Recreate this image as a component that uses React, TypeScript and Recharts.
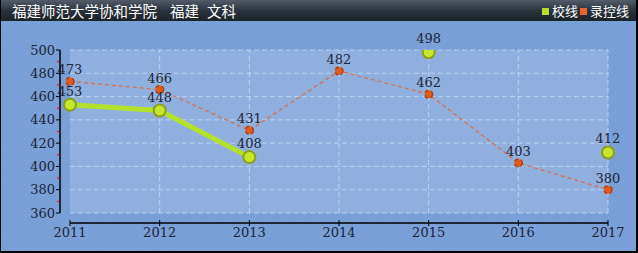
import { LineChart, Line, XAxis, YAxis, ReferenceLine, ReferenceArea, LabelList } from "recharts";

const years = ["2011", "2012", "2013", "2014", "2015", "2016", "2017"];
const schoolLine = [453, 448, 408, null, 498, null, 412];
const controlLine = [473, 466, 431, 482, 462, 403, 380];
const yTicks = [360, 380, 400, 420, 440, 460, 480, 500];
const yMinorTicks = [370, 390, 410, 430, 450, 470, 490];

const data = years.map((year, i) => ({
    year,
    school: schoolLine[i],
    control: controlLine[i],
}));

const serif = "'DejaVu Serif', 'Liberation Serif', serif";
const cjk = "'Noto Sans CJK SC', sans-serif";

function YTick(props: any) {
    const { x, y, payload } = props;
    if (payload.value % 20 !== 0) {
        return <line x1={x - 3} y1={y} x2={x} y2={y} stroke="#e00000" strokeWidth={1} />;
    }
    return (
        <g>
            <line x1={x - 4} y1={y} x2={x} y2={y} stroke="#000" strokeWidth={1} />
            <text x={x - 5} y={y + 4.5} textAnchor="end" fontSize={13} fontFamily={serif} fill="#1c2436">
                {payload.value}
            </text>
        </g>
    );
}

function XTick(props: any) {
    const { x, y, payload } = props;
    return (
        <g>
            <line x1={x} y1={y - 3} x2={x} y2={y + 3} stroke="#000" strokeWidth={1} />
            <text x={x} y={y + 14} textAnchor="middle" fontSize={13} fontFamily={serif} fill="#1c2436">
                {payload.value}
            </text>
        </g>
    );
}

function YAxisLine(props: any) {
    const { x1, y1, x2, y2 } = props;
    return <line x1={x1 - 10} y1={y1} x2={x2 - 10} y2={y2} stroke="#000" strokeWidth={1.5} />;
}

function XAxisLine(props: any) {
    const { x1, y1, x2, y2 } = props;
    return <line x1={x1} y1={y1 + 10} x2={x2} y2={y2 + 10} stroke="#000" strokeWidth={1.5} />;
}

const titleStyle = { position: "absolute" as const, top: 0, color: "#fff", fontSize: 14.5, fontFamily: cjk, whiteSpace: "nowrap" as const };

export default function App() {
    return (
        <div
            style={{
                position: "absolute",
                left: 0,
                top: 0,
                width: 638,
                height: 253,
                boxSizing: "border-box",
                background: "repeating-linear-gradient(135deg, #7aa1d8 0px, #7aa1d8 2px, #759cd3 2px, #759cd3 3px)",
                borderLeft: "1px solid #000",
                borderRight: "2px solid #000",
                borderBottom: "2px solid #000",
                overflow: "hidden",
            }}
        >
            <div
                style={{
                    position: "absolute",
                    left: 0,
                    top: 0,
                    width: 638,
                    height: 21,
                    background: "linear-gradient(#535c68, #2a323d 50%, #1b222b)",
                    zIndex: 2,
                }}
            >
                <span style={{ ...titleStyle, left: 11 }}>福建师范大学协和学院</span>
                <span style={{ ...titleStyle, left: 169 }}>福建</span>
                <span style={{ ...titleStyle, left: 206 }}>文科</span>
                <span style={{ position: "absolute", left: 541, top: 8, width: 7, height: 7, background: "#b8dd2b" }} />
                <span style={{ position: "absolute", left: 551, top: 1, color: "#fff", fontSize: 13, fontFamily: cjk }}>校线</span>
                <span style={{ position: "absolute", left: 579, top: 8, width: 7, height: 7, background: "#e8652e" }} />
                <span style={{ position: "absolute", left: 589, top: 1, color: "#fff", fontSize: 13, fontFamily: cjk }}>录控线</span>
            </div>
            <div style={{ position: "absolute", left: -1, top: 0 }}>
                <LineChart width={638} height={253} data={data} margin={{ top: 50, right: 30, left: 0, bottom: 0 }}>
                    <XAxis
                        dataKey="year"
                        height={30}
                        padding={{ left: 10, right: 0 }}
                        axisLine={false}
                        tickLine={false}
                        tickSize={0}
                        tickMargin={0}
                        tick={<XTick />}
                        interval={0}
                    />
                    <YAxis
                        width={60}
                        domain={[360, 500]}
                        ticks={[...yTicks, ...yMinorTicks].sort((a, b) => a - b)}
                        padding={{ top: 0, bottom: 10 }}
                        axisLine={false}
                        tickLine={false}
                        tickSize={0}
                        tickMargin={0}
                        tick={<YTick />}
                        interval={0}
                        allowDataOverflow
                    />
                    <ReferenceArea x1="2011" x2="2017" y1={360} y2={500} fill="#a3bfe8" fillOpacity={0.55} stroke="none" ifOverflow="visible" />
                    {yTicks.map((v) => (
                        <ReferenceLine
                            key={`h-${v}`}
                            segment={[{ x: "2011", y: v }, { x: "2017", y: v }]}
                            stroke="#c8d9f2"
                            strokeOpacity={0.8}
                            strokeDasharray="5 3"
                            ifOverflow="visible"
                        />
                    ))}
                    {years.slice(1).map((yr) => (
                        <ReferenceLine
                            key={`v-${yr}`}
                            segment={[{ x: yr, y: 360 }, { x: yr, y: 500 }]}
                            stroke="#c8d9f2"
                            strokeOpacity={0.8}
                            strokeDasharray="5 3"
                            ifOverflow="visible"
                        />
                    ))}
                    <ReferenceLine
                        segment={[{ x: "2011", y: 360 }, { x: "2011", y: 500 }]}
                        shape={<YAxisLine />}
                        ifOverflow="visible"
                    />
                    <ReferenceLine
                        segment={[{ x: "2011", y: 360 }, { x: "2017", y: 360 }]}
                        shape={<XAxisLine />}
                        ifOverflow="visible"
                    />
                    <Line
                        dataKey="school"
                        type="linear"
                        stroke="#b4e02a"
                        strokeWidth={5}
                        connectNulls={false}
                        dot={{ r: 6, fill: "#c6e82c", stroke: "#8c9f1c", strokeWidth: 2 }}
                        activeDot={false}
                        isAnimationActive={false}
                    >
                        <LabelList dataKey="school" position="top" offset={9} fontSize={13} fontFamily={serif} fill="#1c2436" />
                    </Line>
                    <Line
                        dataKey="control"
                        type="linear"
                        stroke="#e0693c"
                        strokeWidth={1.2}
                        strokeDasharray="4 3"
                        dot={{ r: 4, fill: "#e25a1e", stroke: "#a8401a", strokeWidth: 1.5 }}
                        activeDot={false}
                        isAnimationActive={false}
                    >
                        <LabelList dataKey="control" position="top" offset={7} fontSize={13} fontFamily={serif} fill="#1c2436" />
                    </Line>
                </LineChart>
            </div>
        </div>
    );
}
